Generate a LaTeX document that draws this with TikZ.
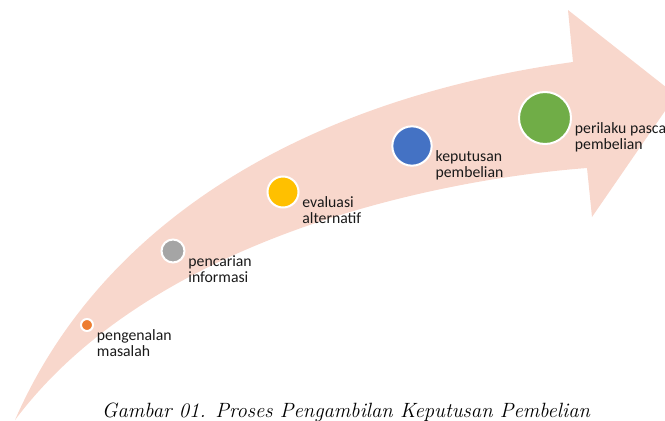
\documentclass[tikz,border=0pt]{standalone}
\usepackage{fontspec}
\newfontfamily\lblfont{Carlito}
\usepackage{xcolor}
\usepackage{tikz}
\usetikzlibrary{positioning}

\definecolor{bandpink}{RGB}{248,215,204}
\definecolor{dotorange}{RGB}{237,125,49}
\definecolor{dotgray}{RGB}{165,165,165}
\definecolor{dotyellow}{RGB}{255,192,0}
\definecolor{dotblue}{RGB}{68,114,196}
\definecolor{dotgreen}{RGB}{112,173,71}

\begin{document}
\begin{tikzpicture}[x=0.75pt,y=-0.75pt,
  dot/.style={circle,draw=white,line width=1.5pt,inner sep=0pt},
  lbl/.style={font=\lblfont\fontsize{11.8}{12}\selectfont,text=black!90,align=left,inner sep=0pt}]
  \useasboundingbox (0,0) rectangle (665,421);
  \clip (0,0) rectangle (665,421);
  \fill[bandpink] (15,420) .. controls (100,225) and (300,100) .. (573,62)
    -- (568,10) -- (676,95) -- (592,217) -- (587,168)
    .. controls (430,180) and (150,240) .. (15,420) -- cycle;
  \node[dot,fill=dotorange,minimum size=9pt] (st1) at (87,325) {};
  \node[dot,fill=dotgray,minimum size=17.25pt] (st2) at (173,251) {};
  \node[dot,fill=dotyellow,minimum size=23.25pt] (st3) at (283,192) {};
  \node[dot,fill=dotblue,minimum size=29.5pt] (st4) at (412,146) {};
  \node[dot,fill=dotgreen,minimum size=39pt] (st5) at (545,118) {};
  \node[lbl,below right=3pt and 2pt of st1.east] (lb1) {pengenalan\\masalah};
  \node[lbl,below right=3pt and 2pt of st2.east] (lb2) {pencarian\\informasi};
  \node[lbl,below right=3pt and 2pt of st3.east] (lb3) {evaluasi\\alternatif};
  \node[lbl,below right=3pt and 2pt of st4.east] (lb4) {keputusan\\pembelian};
  \node[lbl,below right=3pt and 2pt of st5.east] (lb5) {perilaku pasca\\pembelian};
  \node[font=\itshape\fontsize{15.5}{18}\selectfont,anchor=base] (cap) at (346,417)
    {Gambar 01. Proses Pengambilan Keputusan Pembelian};
\end{tikzpicture}
\end{document}
